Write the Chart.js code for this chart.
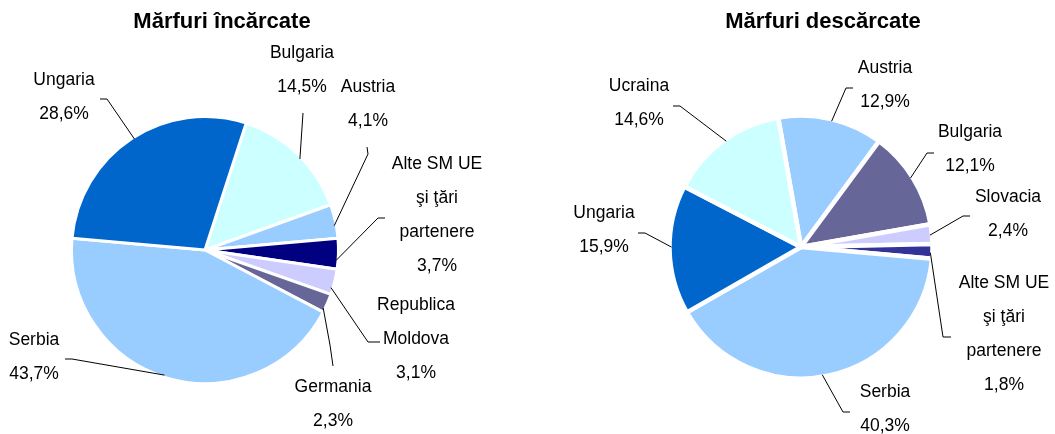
<!DOCTYPE html>
<html>
<head>
<meta charset="utf-8">
<script src="https://cdn.jsdelivr.net/npm/chart.js@4.4.1/dist/chart.umd.min.js"></script>
<style>
html,body{margin:0;padding:0;background:#fff;}
#wrap{position:relative;width:1055px;height:434px;overflow:hidden;background:#fff;}
canvas{position:absolute;top:0;}
</style>
</head>
<body>
<div id="wrap">
<canvas id="c1" width="530" height="434" style="left:0"></canvas>
<canvas id="c2" width="525" height="434" style="left:530px"></canvas>
</div>
<script>
// ---- Data: Mărfuri încărcate ----
const loadedTitle = 'Mărfuri încărcate';
const loadedCategories = ['Bulgaria', 'Austria', 'Alte SM UE şi ţări partenere', 'Republica Moldova', 'Germania', 'Serbia', 'Ungaria'];
const loadedLabelLines = [['Bulgaria'], ['Austria'], ['Alte SM UE', 'şi ţări', 'partenere'], ['Republica', 'Moldova'], ['Germania'], ['Serbia'], ['Ungaria']];
const loadedValues = [14.5, 4.1, 3.7, 3.1, 2.3, 43.7, 28.6];

// ---- Data: Mărfuri descărcate ----
const unloadedTitle = 'Mărfuri descărcate';
const unloadedCategories = ['Austria', 'Bulgaria', 'Slovacia', 'Alte SM UE şi ţări partenere', 'Serbia', 'Ungaria', 'Ucraina'];
const unloadedLabelLines = [['Austria'], ['Bulgaria'], ['Slovacia'], ['Alte SM UE', 'şi ţări', 'partenere'], ['Serbia'], ['Ungaria'], ['Ucraina']];
const unloadedValues = [12.9, 12.1, 2.4, 1.8, 40.3, 15.9, 14.6];

// ---- Styles ----
const loadedColors = ['#CCFFFF', '#99CCFF', '#000080', '#CCCCFF', '#666699', '#99CCFF', '#0066CC'];
const unloadedColors = ['#99CCFF', '#666699', '#CCCCFF', '#333399', '#99CCFF', '#0066CC', '#CCFFFF'];

// ---- Label layout (canvas-local positions of text and leader elbows) ----
const loadedLabelLayout = [
  {x: 302, y: 53,  path: [[303, 113]], t: 0.54},
  {x: 368, y: 87,  path: [[367, 147], [368, 154]], t: 0.62},
  {x: 437, y: 164, path: [[385, 218], [378, 218]], t: 0.72},
  {x: 416, y: 305, path: [[380, 342], [368, 342]], t: 0.75},
  {x: 333, y: 387, path: [[333, 366], [330, 345]], t: 0.8},
  {x: 34,  y: 340, path: [[65, 359], [72, 359]], t: 0.51},
  {x: 64,  y: 80,  path: [[100, 99], [107, 99]], t: 0.51}
];
const unloadedLabelLayout = [
  {x: 355, y: 68,  path: [[323, 88], [316, 88]], t: 0.51},
  {x: 440, y: 132, path: [[404, 153], [397, 153]], t: 0.49},
  {x: 478, y: 197, path: [[440, 216], [433, 216]], t: 0.55},
  {x: 474, y: 283, path: [[421, 337], [413, 337]], t: 0.6},
  {x: 355, y: 392, path: [[320, 412], [313, 412]], t: 0.52},
  {x: 74,  y: 213, path: [[108, 233], [115, 233]], t: 0.52},
  {x: 109, y: 86,  path: [[143, 106], [150, 106]], t: 0.52}
];

const fmtPct = v => v.toFixed(1).replace('.', ',') + '%';
const FONT = '"Liberation Sans", Arial, sans-serif';

const labelPlugin = {
  id: 'pieLabels',
  afterDraw(chart, args, opts) {
    const ctx = chart.ctx;
    const meta = chart.getDatasetMeta(0);
    const ds = chart.data.datasets[0];
    ctx.save();
    ctx.fillStyle = '#000';
    ctx.textAlign = 'center';
    ctx.textBaseline = 'middle';
    ctx.font = 'bold 22px ' + FONT;
    ctx.fillText(opts.title, opts.titleX, opts.titleY);
    ctx.font = '17.5px ' + FONT;
    meta.data.forEach((arc, i) => {
      const lay = opts.layout[i];
      const p = arc.getProps(['x', 'y', 'startAngle', 'endAngle', 'outerRadius'], true);
      const a = p.startAngle + lay.t * (p.endAngle - p.startAngle);
      const r = p.outerRadius - 2;
      const ex = p.x + Math.cos(a) * r, ey = p.y + Math.sin(a) * r;
      ctx.beginPath();
      ctx.strokeStyle = '#000';
      ctx.lineWidth = 1;
      ctx.moveTo(lay.path[0][0], lay.path[0][1]);
      for (let k = 1; k < lay.path.length; k++) ctx.lineTo(lay.path[k][0], lay.path[k][1]);
      ctx.lineTo(ex, ey);
      ctx.stroke();
      const lines = opts.lines[i].concat([fmtPct(ds.data[i])]);
      lines.forEach((s, j) => ctx.fillText(s, lay.x, lay.y + j * 34));
    });
    ctx.restore();
  }
};

function makePie(id, categories, values, colors, rotation, radius, borderWidth, padding, plug) {
  return new Chart(document.getElementById(id), {
    type: 'pie',
    data: {
      labels: categories,
      datasets: [{
        data: values,
        backgroundColor: colors,
        borderColor: '#FFFFFF',
        borderWidth: borderWidth,
        hoverBorderWidth: borderWidth,
        offset: 0,
        hoverOffset: 0
      }]
    },
    options: {
      responsive: false,
      animation: false,
      events: [],
      rotation: rotation,
      radius: radius,
      layout: {padding: padding},
      plugins: {
        legend: {display: false},
        tooltip: {enabled: false},
        title: {display: false},
        pieLabels: plug
      }
    },
    plugins: [labelPlugin]
  });
}

makePie('c1', loadedCategories, loadedValues, loadedColors, 18, 133.5, 3,
  {left: 20, right: 140, top: 76, bottom: 10},
  {title: loadedTitle, titleX: 222, titleY: 22, layout: loadedLabelLayout, lines: loadedLabelLines});

makePie('c2', unloadedCategories, unloadedValues, unloadedColors, -10, 131.5, 4.5,
  {left: 30, right: 13, top: 70, bottom: 10},
  {title: unloadedTitle, titleX: 293, titleY: 22, layout: unloadedLabelLayout, lines: unloadedLabelLines});
</script>
</body>
</html>
